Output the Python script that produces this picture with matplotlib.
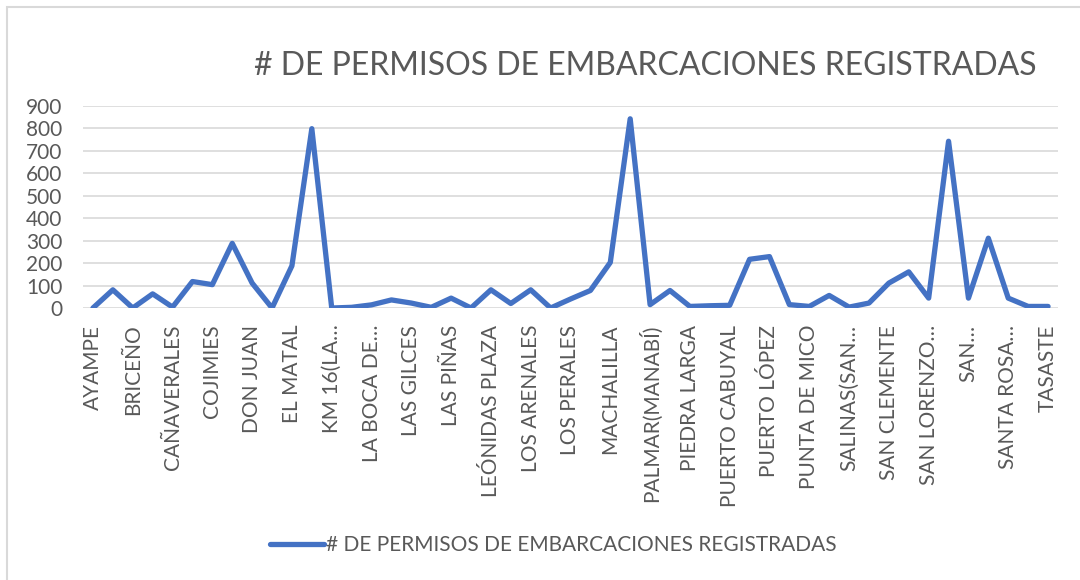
import matplotlib.pyplot as plt
import numpy as np
from matplotlib.patches import Rectangle

# permisos por caleta (49 caletas, solo se rotulan las pares)
permisos = [0, 81, 0, 63, 4, 118, 104, 288, 111, 0,
            188, 799, 0, 3, 14, 36, 22, 3, 44, 0,
            81, 20, 81, 0, 40, 78, 203, 843, 15, 78,
            7, 10, 12, 217, 229, 15, 7, 56, 4, 22,
            111, 161, 44, 743, 44, 311, 44, 7, 7]
etiquetas = ["AYAMPE", "BRICEÑO", "CAÑAVERALES", "COJIMIES", "DON JUAN",
             "EL MATAL", "KM 16(LA…", "LA BOCA DE…", "LAS GILCES", "LAS PIÑAS",
             "LEÓNIDAS PLAZA", "LOS ARENALES", "LOS PERALES", "MACHALILLA",
             "PALMAR(MANABÍ)", "PIEDRA LARGA", "PUERTO CABUYAL", "PUERTO LÓPEZ",
             "PUNTA DE MICO", "SALINAS(SAN…", "SAN CLEMENTE", "SAN LORENZO…",
             "SAN…", "SANTA ROSA…", "TASASTE"]
y_ticks = [0, 100, 200, 300, 400, 500, 600, 700, 800, 900]
serie = "# DE PERMISOS DE EMBARCACIONES REGISTRADAS"

plt.rcParams['font.family'] = ['Lato', 'DejaVu Sans']
gris = '#595959'
W, H = 1080, 580

fig = plt.figure(figsize=(10.8, 5.8), dpi=100)
fig.patches.append(Rectangle((7 / W, -0.1), 1.2, 1 - 7 / H + 0.1, transform=fig.transFigure,
                             fill=False, edgecolor='#d9d9d9', linewidth=1.5))

ax = fig.add_axes([83 / W, 1 - 308 / H, (1058 - 83) / W, (308 - 106) / H])
x = np.arange(len(permisos))
ax.plot(x, permisos, color='#4472C4', linewidth=3.8, solid_joinstyle='round',
        solid_capstyle='round', label=serie, zorder=3)

ax.set_xlim(-0.5, len(permisos) - 0.5)
ax.set_ylim(0, 900)
ax.set_yticks(y_ticks)
ax.set_yticklabels([str(v) for v in y_ticks], fontsize=15, color=gris)
ax.set_xticks(x[::2])
ax.set_xticklabels(etiquetas, rotation=90, fontsize=15, color=gris, va='top', ha='center')
ax.tick_params(axis='both', length=0)
ax.tick_params(axis='x', pad=12)
ax.tick_params(axis='y', pad=15)
ax.grid(axis='y', color='#d9d9d9', linewidth=1.2)
ax.set_axisbelow(True)
for s in ax.spines.values():
    s.set_visible(False)

fig.text(645 / W, 1 - 66 / H, serie, fontsize=23, color=gris, ha='center', va='center')

fig.legend(loc='center', bbox_to_anchor=(553 / W, 1 - 545 / H), frameon=False,
           fontsize=15, labelcolor=gris, handlelength=2.6, handletextpad=0.1)

fig.savefig('out.png', dpi=100)
